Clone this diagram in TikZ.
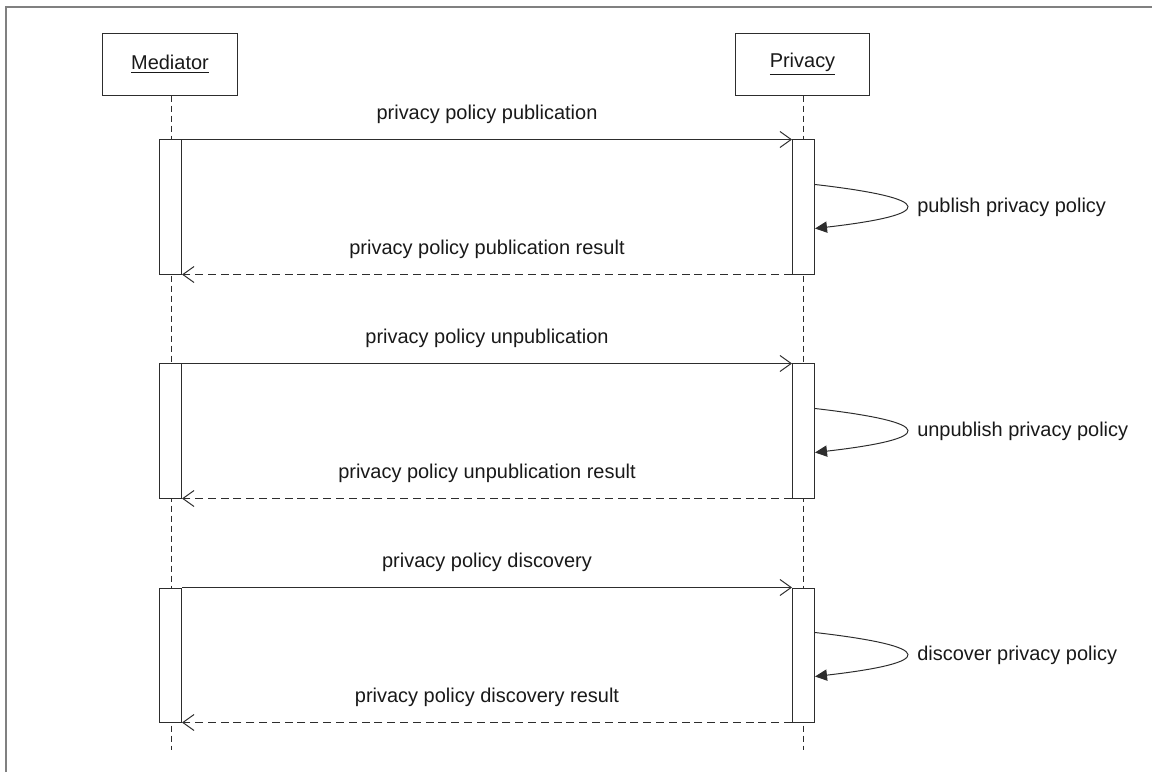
\documentclass[tikz,border=0pt]{standalone}
\usepackage{fontspec}
\setmainfont{Liberation Sans}
\usetikzlibrary{arrows.meta,calc,positioning}
\definecolor{linea}{RGB}{45,45,45}
\definecolor{marco}{RGB}{128,128,128}
\definecolor{texto}{RGB}{25,25,25}
\tikzstyle{actor}   =[rectangle, draw=linea, line width=0.7pt,
                      minimum width=3.35cm, minimum height=1.55cm,
                      inner sep=0pt, text=texto]
\tikzstyle{act}     =[rectangle, draw=linea, fill=white, line width=0.7pt,
                      minimum width=0.55cm, minimum height=3.35cm,
                      inner sep=0pt]
\tikzstyle{msg}     =[line width=0.7pt, linea,
                      -{Straight Barb[length=0.28cm,width=0.4cm]}]
\tikzstyle{ret}     =[msg, dash pattern=on 0.2cm off 0.12cm]
\tikzstyle{self}    =[line width=0.7pt, linea,
                      -{Triangle[length=0.3cm,width=0.28cm]}]
\tikzstyle{lifeline}=[line width=0.7pt, linea,
                      dash pattern=on 0.15cm off 0.1cm]
\tikzstyle{msglabel}=[midway, anchor=base, yshift=0.5cm,
                      inner sep=0pt, text=texto]

\begin{document}
\begin{tikzpicture}[x=0.025cm, y=-0.025cm,
                    font=\fontsize{14.2}{17}\selectfont]
    \useasboundingbox (0,0) rectangle (1152,772);
    \draw[marco, line width=0.9pt] (6,772) -- (6,7) -- (1152,7);

    % participants and lifelines
    \node[actor] (med)  at (170,64)   {\underline{Mediator}};
    \node[actor] (priv) at (802.5,64) {\underline{Privacy}};
    \coordinate (medEnd)  at (171,750);
    \coordinate (privEnd) at (803,750);
    \draw[lifeline] (med.south -| medEnd) -- (medEnd);
    \draw[lifeline] (priv.south -| privEnd) -- (privEnd);

    % the three request / answer blocks
    \foreach \i/\dy/\what/\accion in {1/0/publication/publish,
                                      2/224/unpublication/unpublish,
                                      3/448/discovery/discover}
    {
        \node[act] (m\i) at (170.5,207+\dy) {};
        \node[act] (p\i) at (803.5,207+\dy) {};
        \draw[msg] (m\i.north east) --
            node[msglabel] {privacy policy \what} (p\i.north west);
        \draw[ret] (p\i.south west) --
            node[msglabel] {privacy policy \what{} result} (m\i.south east);
        \draw[self] ($(p\i.north east)+(0,45)$)
            .. controls +(122,14) and +(122,-14) ..
            ($(p\i.north east)+(0,89)$);
        \node[anchor=west, inner sep=0pt, text=texto] (s\i)
            at ($(p\i.north east)+(102,68)$) {\accion{} privacy policy};
    }
\end{tikzpicture}
\end{document}
